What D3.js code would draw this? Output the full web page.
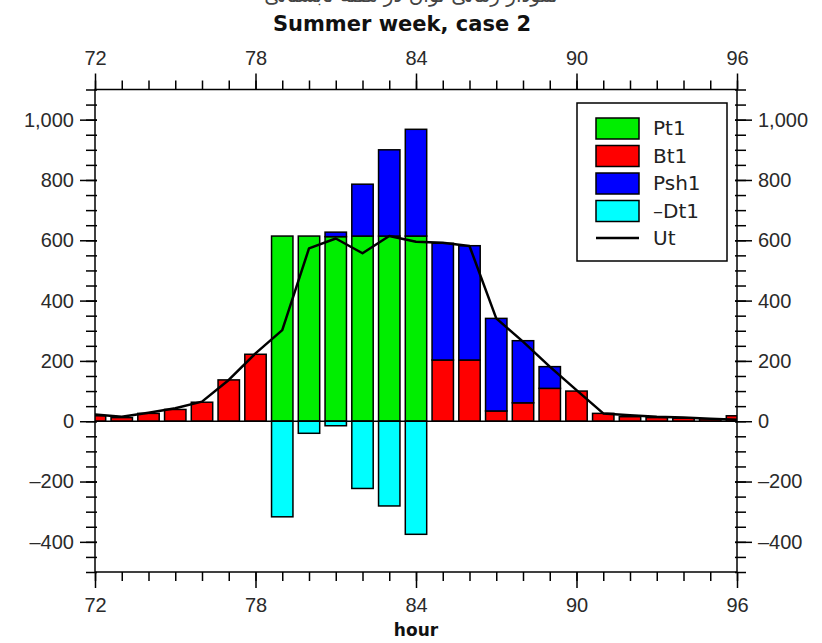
<!DOCTYPE html>
<html lang="en">
<head>
    <meta charset="UTF-8">
    <title>Summer week, case 2</title>
    <script src="https://d3js.org/d3.v7.min.js"></script>
    <style>
        body { margin: 0; background: #fff; }
        svg { display: block; font-family: "DejaVu Sans", sans-serif; }
    </style>
</head>
<body>
    <div id="chart-container"></div>
    <script>
        // hourly values
        const hours = [72, 73, 74, 75, 76, 77, 78, 79, 80, 81, 82, 83, 84, 85, 86, 87, 88, 89, 90, 91, 92, 93, 94, 95, 96];
        const pt1  = [0, 0, 0, 0, 0, 0, 0, 614, 614, 612, 614, 614, 614, 0, 0, 0, 0, 0, 0, 0, 0, 0, 0, 0, 0];
        const bt1  = [18, 12, 26, 39, 63, 137, 222, 0, 0, 0, 0, 0, 0, 203, 203, 34, 61, 109, 100, 26, 15, 12, 10, 8, 18];
        const psh1 = [0, 0, 0, 0, 0, 0, 0, 0, 0, 15, 172, 286, 354, 387, 379, 307, 206, 72, 0, 0, 0, 0, 0, 0, 0];
        const dt1  = [0, 0, 0, 0, 0, 0, 0, -317, -40, -15, -223, -281, -375, 0, 0, 0, 0, 0, 0, 0, 0, 0, 0, 0, 0];
        const ut   = [22, 15, 28, 43, 65, 137, 225, 302, 573, 606, 557, 614, 595, 592, 581, 341, 264, 181, 103, 26, 20, 15, 12, 8, 5];

        const seriesNames = ["Pt1", "Bt1", "Psh1", "-Dt1", "Ut"];
        const seriesColors = ["#00ee00", "#ff0000", "#0000ff", "#00ffff", "#000000"];
        const xMajor = [72, 78, 84, 90, 96];
        const yMajor = [-400, -200, 0, 200, 400, 600, 800, 1000];

        const width = 822, height = 643;
        const margin = { top: 89.5, right: 85, bottom: 71, left: 95 };

        const svg = d3.select("#chart-container")
            .append("svg")
            .attr("width", width)
            .attr("height", height);

        const x = d3.scaleLinear().domain([72, 96]).range([margin.left, width - margin.right]);
        const y = d3.scaleLinear().domain([-500, 1100]).range([height - margin.bottom, margin.top]);
        const barW = (x(1) - x(0)) * 0.8;

        // clip so the half bars at 72 and 96 get cut at the frame
        svg.append("clipPath").attr("id", "plot-clip")
            .append("rect")
            .attr("x", x(72)).attr("y", y(1100))
            .attr("width", x(96) - x(72)).attr("height", y(-500) - y(1100));

        const rows = hours.map((h, i) => ({ h: h, pt1: pt1[i], bt1: bt1[i], psh1: psh1[i], dt1: dt1[i], ut: ut[i] }));
        const stack = d3.stack().keys(["pt1", "bt1", "psh1"]);
        const layers = stack(rows);

        const plot = svg.append("g").attr("clip-path", "url(#plot-clip)");

        layers.forEach((layer, k) => {
            plot.append("g")
                .selectAll("rect")
                .data(layer.filter(d => d[1] - d[0] > 0))
                .join("rect")
                .attr("x", d => x(d.data.h) - barW / 2)
                .attr("y", d => y(d[1]))
                .attr("width", barW)
                .attr("height", d => y(d[0]) - y(d[1]))
                .attr("fill", seriesColors[k])
                .attr("stroke", "#000")
                .attr("stroke-width", 1.5);
        });

        // negative demand bars
        plot.append("g")
            .selectAll("rect")
            .data(rows.filter(d => d.dt1 < 0))
            .join("rect")
            .attr("x", d => x(d.h) - barW / 2)
            .attr("y", y(0))
            .attr("width", barW)
            .attr("height", d => y(d.dt1) - y(0))
            .attr("fill", seriesColors[3])
            .attr("stroke", "#000")
            .attr("stroke-width", 1.5);

        // zero line
        svg.append("line")
            .attr("x1", x(72)).attr("x2", x(96))
            .attr("y1", y(0)).attr("y2", y(0))
            .attr("stroke", "#000").attr("stroke-width", 1.5);

        const line = d3.line()
            .x(d => x(d.h))
            .y(d => y(d.ut));

        plot.append("path")
            .datum(rows)
            .attr("d", line)
            .attr("fill", "none")
            .attr("stroke", "#000")
            .attr("stroke-width", 2.5)
            .attr("stroke-linejoin", "round");

        // axes
        const fmt = d => d3.format(",")(d).replace("\u2212", "\u2013");
        const tickFont = g => g.selectAll("text")
            .attr("font-size", 20)
            .attr("fill", "#2a2a2a");

        function yAxes(side) {
            const isLeft = side === "left";
            const x0 = isLeft ? x(72) : x(96);
            const gen = isLeft ? d3.axisLeft : d3.axisRight;
            const nudge = isLeft ? 2 : -2;
            svg.append("g")
                .attr("transform", `translate(${x0 + nudge},0)`)
                .call(gen(y).tickValues(d3.range(-500, 1101, 50)).tickSize(11).tickFormat(""))
                .call(g => g.select(".domain").remove())
                .call(g => g.selectAll("line").attr("stroke-width", 1.5));
            svg.append("g")
                .attr("transform", `translate(${x0 + nudge},0)`)
                .call(gen(y).tickValues(yMajor).tickSize(17).tickPadding(6).tickFormat(fmt))
                .call(g => g.select(".domain").remove())
                .call(g => g.selectAll("line").attr("stroke-width", 1.5))
                .call(tickFont);
        }
        yAxes("left");
        yAxes("right");

        function xAxes(side) {
            const isTop = side === "top";
            const y0 = isTop ? y(1100) : y(-500);
            const gen = isTop ? d3.axisTop : d3.axisBottom;
            svg.append("g")
                .attr("transform", `translate(0,${y0})`)
                .call(gen(x).tickValues(d3.range(72, 97, 1)).tickSize(9).tickFormat(""))
                .call(g => g.select(".domain").remove())
                .call(g => g.selectAll("line").attr("stroke-width", 1.5));
            svg.append("g")
                .attr("transform", `translate(0,${y0})`)
                .call(gen(x).tickValues(xMajor).tickSize(16).tickPadding(isTop ? 9 : 10).tickFormat(d3.format("d")))
                .call(g => g.select(".domain").remove())
                .call(g => g.selectAll("line").attr("stroke-width", 1.5))
                .call(tickFont);
        }
        xAxes("top");
        xAxes("bottom");

        // frame
        svg.append("rect")
            .attr("x", x(72)).attr("y", y(1100))
            .attr("width", x(96) - x(72)).attr("height", y(-500) - y(1100))
            .attr("fill", "none").attr("stroke", "#000").attr("stroke-width", 1.5);

        // titles (the line above the title is cut by the top edge in the source)
        svg.append("text")
            .attr("x", 411).attr("y", 2)
            .attr("text-anchor", "middle")
            .attr("font-size", 20)
            .attr("fill", "#444")
            .attr("direction", "rtl")
            .text("نمودار زمانی توان در هفته تابستانی");

        svg.append("text")
            .attr("x", 402).attr("y", 31)
            .attr("text-anchor", "middle")
            .attr("font-size", 21)
            .attr("font-weight", "bold")
            .attr("fill", "#111")
            .text("Summer week, case 2");

        svg.append("text")
            .attr("x", x(84)).attr("y", 636)
            .attr("text-anchor", "middle")
            .attr("font-size", 17)
            .attr("font-weight", "bold")
            .attr("fill", "#111")
            .text("hour");

        // legend
        const legend = svg.append("g").attr("transform", "translate(577,103)");
        legend.append("rect")
            .attr("width", 150).attr("height", 158)
            .attr("fill", "#fff").attr("stroke", "#000").attr("stroke-width", 1.5);

        seriesNames.forEach((name, i) => {
            const ry = 15 + i * 27.5;
            if (i < 4) {
                legend.append("rect")
                    .attr("x", 19).attr("y", ry)
                    .attr("width", 43).attr("height", 21)
                    .attr("fill", seriesColors[i])
                    .attr("stroke", "#000").attr("stroke-width", 1.5);
            } else {
                legend.append("line")
                    .attr("x1", 19).attr("x2", 62)
                    .attr("y1", ry + 10).attr("y2", ry + 10)
                    .attr("stroke", "#000").attr("stroke-width", 2.5);
            }
            legend.append("text")
                .attr("x", 76).attr("y", ry + 17)
                .attr("font-size", 20)
                .attr("fill", "#222")
                .text(name.replace("-", "\u2013"));
        });
    </script>
</body>
</html>
